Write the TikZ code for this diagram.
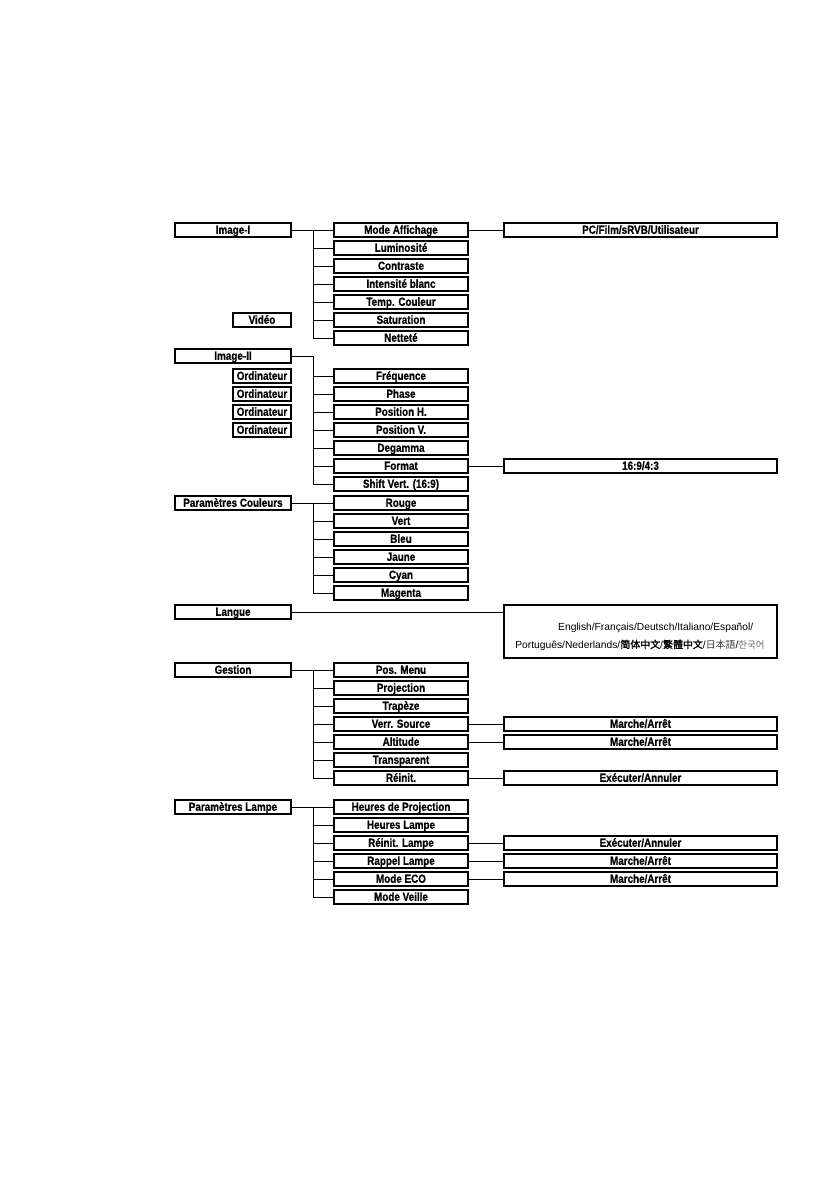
\documentclass[tikz,border=0pt]{standalone}
\usepackage{fontspec}
\newfontfamily\nar[FakeStretch=0.84,FakeBold=0.6]{Liberation Sans}
\newfontfamily\reg{Liberation Sans}
\newfontfamily\cjkb[FakeBold=1.5]{Noto Sans CJK SC}
\newfontfamily\cjk{Noto Sans CJK JP}
\newfontfamily\kr{Noto Sans CJK KR}
\begin{document}
\begin{tikzpicture}[x=1bp,y=-1bp,
  bx/.style={draw=black, line width=1.1bp, fill=white, inner sep=0pt, minimum height=14bp,
     text height=9.6bp, text depth=2bp,
     font=\nar\bfseries\fontsize{11.8}{12}\selectfont},
  lbox/.style={bx, minimum width=116bp},
  sbox/.style={bx, minimum width=58bp},
  mbox/.style={bx, minimum width=134bp},
  rbox/.style={bx, minimum width=273bp},
  ln/.style={draw=black, line width=0.9bp}]
\useasboundingbox[fill=white] (0,0) rectangle (840,1192);

% ---------- Image-I ----------
\node[lbox] (img1) at (233,230) {Image-I};
\node[sbox] (video) at (262,320) {Vidéo};
\node[mbox] (mode) at (401,230) {Mode Affichage};
\node[mbox] (lum) at (401,248) {Luminosité};
\node[mbox] (contr) at (401,266) {Contraste};
\node[mbox] (intens) at (401,284) {Intensité blanc};
\node[mbox] (temp) at (401,302) {Temp. Couleur};
\node[mbox] (sat) at (401,320) {Saturation};
\node[mbox] (net) at (401,338) {Netteté};
\node[rbox] (pcfilm) at (640.5,230) {PC/Film/sRVB/Utilisateur};
\coordinate (t1) at (313,230);
\draw[ln] (img1.east) -- (mode.west);
\draw[ln] (mode.east) -- (pcfilm.west);
\draw[ln] (t1) |- (net.west);
\foreach \n in {lum,contr,intens,temp,sat} \draw[ln] (t1 |- \n.west) -- (\n.west);

% ---------- Image-II ----------
\node[lbox] (img2) at (233,356) {Image-II};
\node[sbox] (ord1) at (262,376) {Ordinateur};
\node[sbox] (ord2) at (262,394) {Ordinateur};
\node[sbox] (ord3) at (262,412) {Ordinateur};
\node[sbox] (ord4) at (262,430) {Ordinateur};
\node[mbox] (freq) at (401,376) {Fréquence};
\node[mbox] (phase) at (401,394) {Phase};
\node[mbox] (posh) at (401,412) {Position H.};
\node[mbox] (posv) at (401,430) {Position V.};
\node[mbox] (degam) at (401,448) {Degamma};
\node[mbox] (format) at (401,466) {Format};
\node[mbox] (shift) at (401,484) {Shift Vert. (16:9)};
\node[rbox] (ratio) at (640.5,466) {16:9/4:3};
\coordinate (t2) at (313,356);
\draw[ln] (img2.east) -- (t2) |- (shift.west);
\foreach \n in {freq,phase,posh,posv,degam,format} \draw[ln] (t2 |- \n.west) -- (\n.west);
\draw[ln] (format.east) -- (ratio.west);

% ---------- Paramètres Couleurs ----------
\node[lbox] (coul) at (233,503) {Paramètres Couleurs};
\node[mbox] (rouge) at (401,503) {Rouge};
\node[mbox] (vert) at (401,521) {Vert};
\node[mbox] (bleu) at (401,539) {Bleu};
\node[mbox] (jaune) at (401,557) {Jaune};
\node[mbox] (cyan) at (401,575) {Cyan};
\node[mbox] (magenta) at (401,593) {Magenta};
\coordinate (t3) at (313,503);
\draw[ln] (coul.east) -- (rouge.west);
\draw[ln] (t3) |- (magenta.west);
\foreach \n in {vert,bleu,jaune,cyan} \draw[ln] (t3 |- \n.west) -- (\n.west);

% ---------- Langue ----------
\node[lbox] (langue) at (233,612) {Langue};
\node[draw=black, line width=1.1bp, minimum width=273bp, minimum height=53bp, inner sep=0pt] (langbox) at (640.5,631.5) {};
\node[anchor=west, inner sep=0pt, font=\reg\fontsize{10.3}{12}\selectfont] (lang1) at (558,628) {English/Français/Deutsch/Italiano/Español/};
\node[inner sep=0pt, font=\reg\fontsize{10.3}{12}\selectfont] (lang2) at (640,645) {Português/Nederlands/{\cjkb\fontsize{10}{12}\selectfont 简体中文}/{\cjkb\fontsize{10}{12}\selectfont 繁體中文}/{\color{black!75}\cjk\fontsize{10}{12}\selectfont 日本語}/{\color{black!60}\kr\fontsize{9.5}{12}\selectfont 한국어}};
\draw[ln] (langue.east) -- (langue.east -| langbox.west);

% ---------- Gestion ----------
\node[lbox] (gest) at (233,670) {Gestion};
\node[mbox] (posmenu) at (401,670) {Pos. Menu};
\node[mbox] (proj) at (401,688) {Projection};
\node[mbox] (trap) at (401,706) {Trapèze};
\node[mbox] (verr) at (401,724) {Verr. Source};
\node[mbox] (alt) at (401,742) {Altitude};
\node[mbox] (transp) at (401,760) {Transparent};
\node[mbox] (reinit) at (401,778) {Réinit.};
\node[rbox] (verrma) at (640.5,724) {Marche/Arrêt};
\node[rbox] (altma) at (640.5,742) {Marche/Arrêt};
\node[rbox] (reinitex) at (640.5,778) {Exécuter/Annuler};
\coordinate (t5) at (313,670);
\draw[ln] (gest.east) -- (posmenu.west);
\draw[ln] (t5) |- (reinit.west);
\foreach \n in {proj,trap,verr,alt,transp} \draw[ln] (t5 |- \n.west) -- (\n.west);
\draw[ln] (verr.east) -- (verrma.west);
\draw[ln] (alt.east) -- (altma.west);
\draw[ln] (reinit.east) -- (reinitex.west);

% ---------- Paramètres Lampe ----------
\node[lbox] (lampe) at (233,807) {Paramètres Lampe};
\node[mbox] (hproj) at (401,807) {Heures de Projection};
\node[mbox] (hlampe) at (401,825) {Heures Lampe};
\node[mbox] (rlampe) at (401,843) {Réinit. Lampe};
\node[mbox] (rappel) at (401,861) {Rappel Lampe};
\node[mbox] (eco) at (401,879) {Mode ECO};
\node[mbox] (veille) at (401,897) {Mode Veille};
\node[rbox] (rlampeex) at (640.5,843) {Exécuter/Annuler};
\node[rbox] (rappelma) at (640.5,861) {Marche/Arrêt};
\node[rbox] (ecoma) at (640.5,879) {Marche/Arrêt};
\coordinate (t6) at (313,807);
\draw[ln] (lampe.east) -- (hproj.west);
\draw[ln] (t6) |- (veille.west);
\foreach \n in {hlampe,rlampe,rappel,eco} \draw[ln] (t6 |- \n.west) -- (\n.west);
\draw[ln] (rlampe.east) -- (rlampeex.west);
\draw[ln] (rappel.east) -- (rappelma.west);
\draw[ln] (eco.east) -- (ecoma.west);
\end{tikzpicture}
\end{document}
